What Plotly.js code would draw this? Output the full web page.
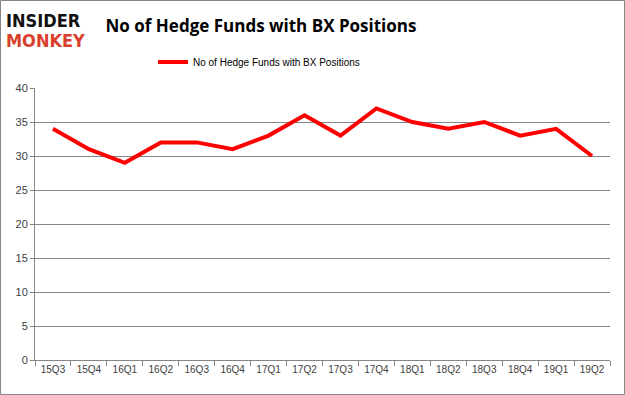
<!DOCTYPE html>
<html>
<head>
<meta charset="utf-8">
<script src="https://cdn.plot.ly/plotly-3.0.1.min.js"></script>
<style>
html,body{margin:0;padding:0;background:#fff;}
#chart{width:625px;height:395px;}
</style>
</head>
<body>
<div id="chart"></div>
<script>
const quarters = ["15Q3","15Q4","16Q1","16Q2","16Q3","16Q4","17Q1","17Q2","17Q3","17Q4","18Q1","18Q2","18Q3","18Q4","19Q1","19Q2"];
const hedgeFunds = [34,31,29,32,32,31,33,36,33,37,35,34,35,33,34,30];
const seriesName = "No of Hedge Funds with BX Positions";
const chartTitle = "No of Hedge Funds with BX Positions";
const yTicks = [0,5,10,15,20,25,30,35,40];

const W = 625, H = 395;
const m = {l:35, r:15, t:88, b:35};
const pw = W - m.l - m.r, ph = H - m.t - m.b;

const trace = {
  x: quarters,
  y: hedgeFunds,
  type: "scatter",
  mode: "lines",
  name: seriesName,
  line: {color: "#ff0000", width: 4},
  showlegend: true
};

const layout = {
  width: W, height: H,
  margin: m,
  paper_bgcolor: "#ffffff",
  plot_bgcolor: "#ffffff",
  font: {family: "Liberation Sans, sans-serif", size: 11, color: "#404040"},
  title: {
    text: "<b>" + chartTitle + "</b>",
    font: {family: "Open Sans, DejaVu Sans, sans-serif", size: 17, color: "#000000"},
    x: 261/W, xanchor: "center", xref: "container",
    y: 1 - 26/H, yanchor: "middle", yref: "container"
  },
  showlegend: true,
  legend: {
    orientation: "h",
    x: (153 - m.l)/pw, xanchor: "left", xref: "paper",
    y: 1 + (m.t - 62)/ph, yanchor: "middle", yref: "paper",
    font: {family: "Liberation Sans, sans-serif", size: 10, color: "#000000"},
    bgcolor: "rgba(0,0,0,0)"
  },
  xaxis: {
    type: "category",
    showgrid: false,
    showline: true, linecolor: "#868686", linewidth: 1,
    ticks: "outside", tickson: "boundaries", ticklen: 5, tickcolor: "#868686",
    tickangle: 0,
    tickfont: {family: "Liberation Sans, sans-serif", size: 10, color: "#404040"},
    zeroline: false,
    range: [-0.5, quarters.length - 0.5]
  },
  yaxis: {
    range: [0, 40],
    tickvals: yTicks,
    showgrid: true, gridcolor: "#868686", gridwidth: 1,
    showline: true, linecolor: "#868686", linewidth: 1,
    ticks: "outside", ticklen: 4, tickcolor: "#868686",
    tickfont: {family: "Liberation Sans, sans-serif", size: 11, color: "#404040"},
    zeroline: false
  },
  shapes: [{
    type: "rect", xref: "paper", yref: "paper",
    x0: -(m.l - 0.5)/pw, x1: 1 + (m.r - 0.5)/pw,
    y0: -(m.b - 0.5)/ph, y1: 1 + (m.t - 0.5)/ph,
    line: {color: "#868686", width: 1}, fillcolor: "rgba(0,0,0,0)", layer: "below"
  }],
  annotations: [
    {text: "<b>INSIDER</b>", xref: "paper", yref: "paper",
     x: (4 - m.l)/pw, xanchor: "left", y: 1 + (m.t - 20)/ph, yanchor: "middle",
     showarrow: false, font: {family: "DejaVu Sans Condensed, sans-serif", size: 18, color: "#111111"}},
    {text: "<b>MONKEY</b>", xref: "paper", yref: "paper",
     x: (4 - m.l)/pw, xanchor: "left", y: 1 + (m.t - 41)/ph, yanchor: "middle",
     showarrow: false, font: {family: "DejaVu Sans Condensed, sans-serif", size: 18, color: "#d9402b"}}
  ]
};

Plotly.newPlot("chart", [trace], layout, {displayModeBar: false, staticPlot: true});
</script>
</body>
</html>
